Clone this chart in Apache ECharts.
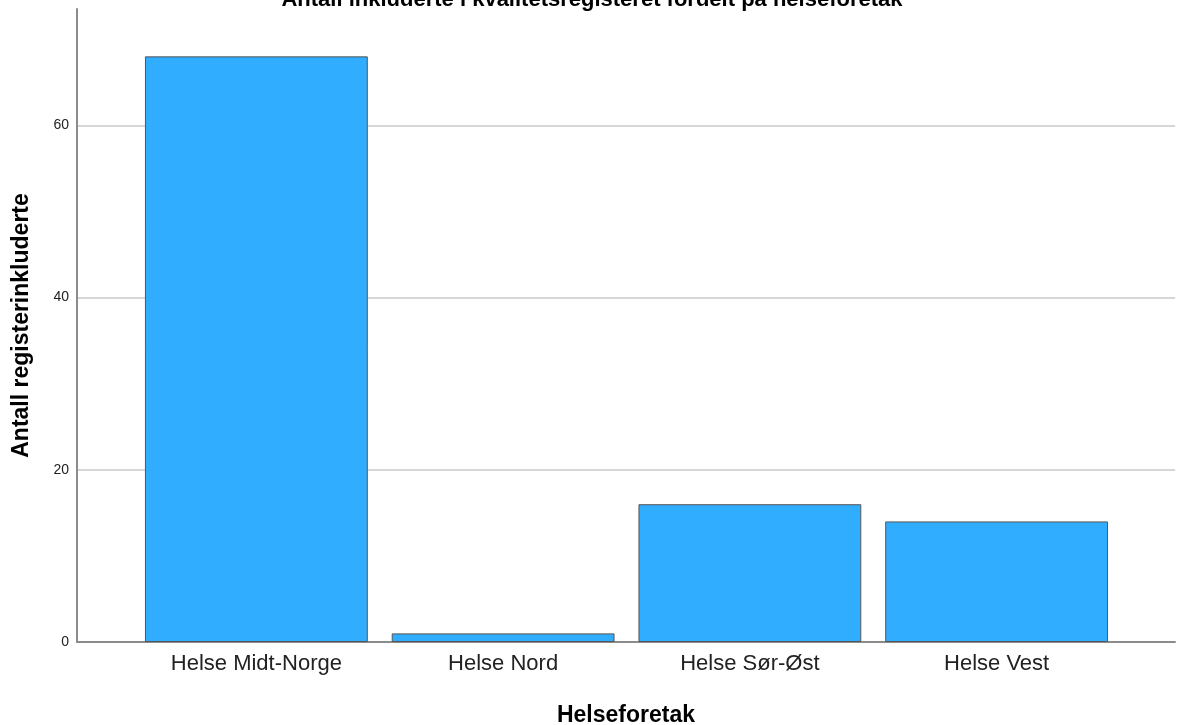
<!DOCTYPE html>
<html>
<head>
<meta charset="utf-8">
<script src="https://cdn.jsdelivr.net/npm/echarts@6/dist/echarts.min.js"></script>
<style>html,body{margin:0;padding:0;background:#fff;}#c{width:1185px;height:725px;}</style>
</head>
<body>
<div id="c"></div>
<script>
const title = 'Antall inkluderte i kvalitetsregisteret fordelt på helseforetak';
const categories = ['Helse Midt-Norge', 'Helse Nord', 'Helse Sør-Øst', 'Helse Vest'];
const counts = [68, 1, 16, 14];
const yTicks = [0, 20, 40, 60];
const yMax = 73.5;

const chart = echarts.init(document.getElementById('c'), null, {renderer: 'canvas'});
const font = 'Liberation Sans, Arial, sans-serif';
chart.setOption({
  backgroundColor: '#fff',
  animation: false,
  title: {
    text: title, left: 587, top: -16, textAlign: 'center',
    textStyle: {fontFamily: font, fontSize: 22, fontWeight: 'bold', color: '#000'}
  },
  grid: [
    {left: 77, right: 10, top: 9, bottom: 83, containLabel: false, outerBoundsMode: 'none'},
    {left: 133, right: 65, top: 9, bottom: 83, containLabel: false, outerBoundsMode: 'none'}
  ],
  xAxis: [
    {
      gridIndex: 0, type: 'category', data: [''],
      axisLine: {show: true, lineStyle: {color: '#8c8c8c', width: 2}},
      axisTick: {show: false}, axisLabel: {show: false},
      name: 'Helseforetak', nameLocation: 'middle', nameGap: 62,
      nameTextStyle: {fontFamily: font, fontSize: 23, fontWeight: 'bold', color: '#000'}
    },
    {
      gridIndex: 1, type: 'category', data: categories,
      axisLine: {show: false}, axisTick: {show: false},
      axisLabel: {fontFamily: font, fontSize: 22, color: '#222', margin: 11}
    }
  ],
  yAxis: [
    {
      gridIndex: 0, type: 'value', min: 0, max: yMax, interval: 20,
      axisLine: {show: true, lineStyle: {color: '#8c8c8c', width: 2}},
      axisTick: {show: false},
      axisLabel: {
        fontFamily: font, fontSize: 14, color: '#222', margin: 8,
        formatter: v => yTicks.includes(v) ? String(v) : ''
      },
      splitLine: {show: true, showMaxLine: false, lineStyle: {color: '#c8c8c8', width: 1.5}},
      name: 'Antall registerinkluderte', nameLocation: 'middle', nameGap: 44,
      nameTextStyle: {fontFamily: font, fontSize: 23, fontWeight: 'bold', color: '#000'}
    },
    {
      gridIndex: 1, type: 'value', min: 0, max: yMax, interval: 20, show: false,
      splitLine: {show: false}
    }
  ],
  series: [{
    type: 'bar', xAxisIndex: 1, yAxisIndex: 1,
    data: counts, barCategoryGap: '9.7%',
    itemStyle: {color: '#31adff', borderColor: '#555', borderWidth: 1}
  }]
});
</script>
</body>
</html>
